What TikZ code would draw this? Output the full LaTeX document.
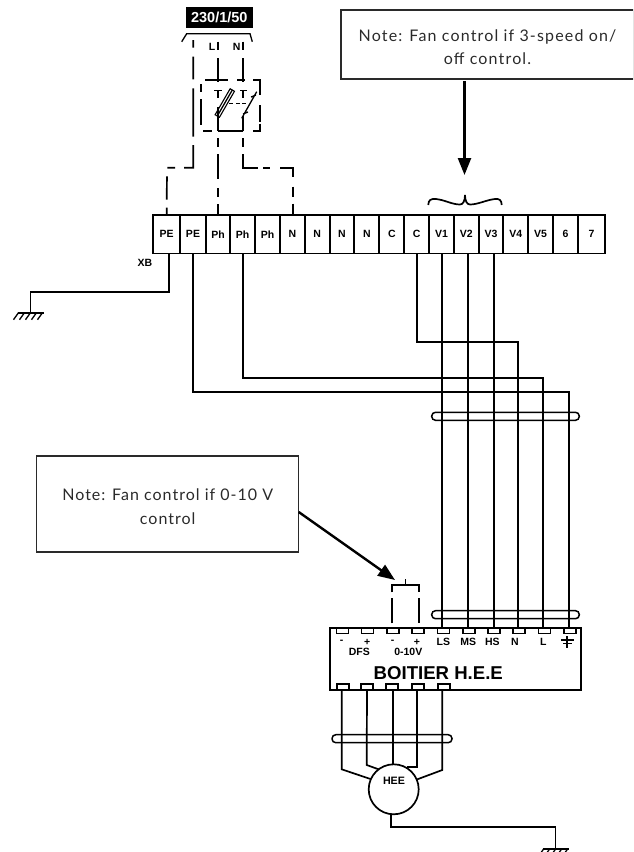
\documentclass[tikz,border=0pt]{standalone}
\usepackage{fontspec}
\setmainfont{Liberation Sans}
\newfontfamily\noteAfont[LetterSpace=7.3]{Lato}
\newfontfamily\noteBfont[LetterSpace=6.3]{Lato}
\usetikzlibrary{arrows.meta}
\definecolor{notegray}{HTML}{2A2A2A}
\tikzset{
  wire/.style={line width=1.7pt,black},
  dwire/.style={line width=1.7pt,black},
  term/.style={draw,line width=1.7pt,minimum height=38.5pt,inner sep=0pt,outer sep=0pt,font=\bfseries\fontsize{10.5}{12}\selectfont},
  pin/.style={draw,line width=1.6pt,minimum width=12pt,minimum height=5.5pt,inner sep=0pt,outer sep=0pt},
  lab/.style={inner sep=0pt,font=\bfseries\fontsize{10.5}{12}\selectfont},
  notebox/.style={draw=notegray,line width=1.2pt,inner sep=0pt,outer sep=0pt},
  notetxt/.style={text=notegray,inner sep=0pt,align=center},
  tie/.style={line width=1.5pt,rounded corners=3.8pt},
  bigarrow/.style={line width=2.4pt,-{Triangle[width=13pt,length=17pt]}}
}
\newcommand{\gndmark}[2]{%
  \draw[wire] (#1-13,#2) -- (#1+13,#2);
  \foreach \k in {-12,-6,0,6,12}{\draw[line width=1.3pt] (#1+\k,#2) -- ++(-5,7);}
}
\begin{document}
\begin{tikzpicture}[x=1pt,y=-1pt]
\useasboundingbox (0,0) rectangle (633,852);
\clip (0,0) rectangle (633,852);
% notes
\node[notebox,minimum width=293pt,minimum height=69pt] (noteA) at (487.5,44.5) {};
\node[notetxt,font=\noteAfont\fontsize{16}{23}\selectfont] (noteAtxt) at (487.5,47) {Note: Fan control if 3-speed on/\\off control.};
\node[notebox,minimum width=262pt,minimum height=96pt] (noteB) at (167.7,504) {};
\node[notetxt,font=\noteBfont\fontsize{16}{23.5}\selectfont] (noteBtxt) at (167.7,506.5) {Note: Fan control if 0-10 V\\control};
% supply label
\node[fill=black,text=white,inner sep=0pt,minimum width=66.7pt,minimum height=21pt,font=\bfseries\fontsize{14.5}{16}\selectfont] (supply) at (219.3,17.5) {230/1/50};
\draw[line width=1.3pt] (181.7,41.7) -- (186.7,33.7) -- (250,33.7) -- (252.3,41.7);
\node[lab] (lL) at (212,47.3) {L};
\node[lab] (lN) at (236.7,47.3) {N};
% terminal strip
\foreach \nm/\a/\b/\t in {t1/153/180.3/PE,t2/180.3/205.7/PE,t3/205.7/230.3/Ph,t4/230.3/255/Ph,t5/255/280/Ph,t6/280/304.7/N,t7/304.7/329.7/N,t8/329.7/354.3/N,t9/354.3/379.3/N,t10/379.3/404.3/C,t11/404.3/429/C,t12/429/454/V1,t13/454/478.7/V2,t14/478.7/503.3/V3,t15/503.3/528.3/V4,t16/528.3/553/V5,t17/553/578/6,t18/578/605/7}{
  \pgfmathsetmacro{\w}{\b-\a}
  \pgfmathsetmacro{\c}{(\a+\b)/2}
  \node[term,minimum width=\w pt] (\nm) at (\c,234.2) {\t};
}
\node[lab] (xb) at (145,263) {XB};
% isolator box
\draw[dwire] (205,80) -- (228.3,80) (237.3,80) -- (245,80) (253.3,80) -- (260,80) -- (260,95)
  (260,105) -- (260,121.7) (260,123.5) -- (260,130.7) -- (252.7,130.7) (243.3,130.7) -- (218,130.7)
  (211.7,130.7) -- (203.3,130.7) (201,84) -- (201,91.7) (201,99) -- (201,125);
\draw[wire,line width=1.3pt] (214,90.7) -- (221.7,90.7) (240,90.7) -- (246.7,90.7);
\draw[wire,line width=1.3pt] (217.3,116) -- (232.3,90);
\draw[line width=1.1pt,rotate around={60:(224.8,103)}] (209.8,100.5) rectangle (239.8,105.5);
\draw[wire,line width=1.3pt] (241.7,118.3) -- (256.7,91.7) (251,97) -- (256,95) (243,114) -- (248,112);
\draw[line width=1.2pt,dash pattern=on 4pt off 2.5pt] (229.3,103.7) -- (246.7,103.7);
% mains wiring (dashed, with the reference's irregular gaps)
\coordinate (peTop) at (193.3,40);
\coordinate (lTop) at (218,41.7);
\coordinate (nTop) at (243.3,41.7);
\draw[dwire,dash pattern=on 7.7pt off 9pt on 22.6pt off 9pt on 48.4pt off 8.3pt on 32pt off 9pt on 7.7pt off 9pt on 23.3pt off 8pt on 7pt]
  (peTop) -- (193.3,167.7) -- (167,167.7) -- (t1.north);
\draw[dwire,dash pattern=on 8.3pt off 8pt on 23.7pt off 9pt on 7.3pt off 9pt on 23.7pt off 7.3pt on 8.7pt off 7.3pt on 25pt off 9pt on 8.7pt off 7.3pt on 11pt]
  (lTop) -- (t3.north);
\draw[dwire,dash pattern=on 8.3pt off 8pt on 23.7pt off 9pt on 7.3pt off 18pt on 14.7pt off 7.3pt on 8.7pt off 7.3pt on 28.7pt off 5pt on 6.7pt off 10pt on 22.3pt off 10pt on 10pt off 7pt on 11.3pt]
  (nTop) -- (243.3,167.7) -- (293.3,167.7) -- (293.3,215);
% earth 1
\coordinate (gndA) at (30.5,312.7);
\draw[wire] ([xshift=2.3pt]t1.south) -- ++(0,38.2) -| (gndA);
\gndmark{30.5}{312.7}
% fan box
\node[draw,line width=1.7pt,minimum width=251pt,minimum height=62pt,inner sep=0pt,outer sep=0pt] (boitier) at (455.5,659) {};
\node[inner sep=0pt,font=\bfseries\fontsize{18.6}{20}\selectfont] (boitiertxt) at (438.3,672.7) {BOITIER H.E.E};
\foreach \nm/\c in {a1/342.5,a2/367.3,a3/392.8,a4/418,a5/443.6,a6/468.8,a7/494.2,a8/519,a9/544.3,a10/570}{
  \node[pin] (\nm) at (\c,630.8) {};
}
\foreach \nm/\c in {b1/342.8,b2/367,b3/391.7,b4/417.7,b5/443.7}{
  \node[pin] (\nm) at (\c,687) {};
}
\foreach \nm/\x/\t in {m1/341.7/-,m2/367.3/+,m3/392.7/-,m4/417/+,m5/443.3/LS,m6/468.3/MS,m7/492.3/HS,m8/515/N,m9/543.3/L}{
  \node[lab] (\nm) at (\x,642) {\t};
}
\node[lab] (dfs) at (359.3,651.7) {DFS};
\node[lab] (v010) at (408.3,651.7) {0-10V};
\draw[wire,line width=1.3pt] (567,636) -- (567,648) (561.2,640) -- (574,640) (563,643.3) -- (572,643.3);
% control wires
\draw[wire] ([xshift=.5pt]t12.south) -- ([xshift=.5pt]t12.south |- a5.north);
\draw[wire] ([xshift=1.4pt]t13.south) -- ([xshift=1.4pt]t13.south |- a6.north);
\draw[wire] ([xshift=3pt]t14.south) -- ([xshift=3pt]t14.south |- a7.north);
\draw[wire] (t11.south) -- ++(0,88.5) -| ([xshift=-1pt]a8.north);
\draw[wire] (t4.south) -- ++(0,124.2) -| ([xshift=-1.3pt]a9.north);
\draw[wire] (t2.south) -- ++(0,138.2) -| ([xshift=-1.3pt]a10.north);
% cable ties
\draw[tie] (431.7,412.3) rectangle (579.3,420.3);
\draw[tie] (431.7,610.7) rectangle (579.3,618.7);
\draw[tie] (332,734.7) rectangle (452,742.7);
% 0-10 V bracket
\draw[dwire,dash pattern=on 25pt off 6pt on 42.2pt off 6pt on 25pt]
  (392,623.3) -- (392,584.7) -- (419,584.7) -- (419,623.3);
\draw[wire] (405.5,584.7) -- (405.5,579);
% note arrows and brace
\coordinate (tipA) at (464.5,175);
\coordinate (tipB) at (395,580);
\draw[bigarrow] (tipA |- noteA.south) ++(0,2) -- (tipA);
\draw[bigarrow] ([yshift=-8pt]noteB.east) -- (tipB);
\draw[line width=1.7pt] (428.3,205) .. controls (428.3,200) and (431,198.5) .. (436,199)
  .. controls (445,200) and (452,204.5) .. (460,204.5) .. controls (463,204.5) and (465,201) .. (465,195)
  .. controls (465,201) and (467,204.5) .. (470,204.5) .. controls (478,204.5) and (486,200) .. (495,199)
  .. controls (499,198.5) and (501.7,200) .. (501.7,205);
% motor
\node[draw,circle,line width=1.7pt,minimum size=50pt,inner sep=0pt,outer sep=0pt] (hee) at (393.7,789.3) {};
\node[lab,font=\bfseries\fontsize{10.7}{12}\selectfont] (heetxt) at (394,781) {HEE};
\draw[wire] ([xshift=-1.1pt]b1.south) -- (341.7,769.3) -- (hee.156);
\draw[wire] (b2.south) -- (366.7,765) -- (hee.127);
\draw[wire] ([xshift=1pt]b3.south) -- (392.7,764.3);
\draw[wire] ([xshift=-.7pt]b4.south) -- (417,766.7) -- (407,766.7);
\draw[wire] ([xshift=-1.4pt]b5.south) -- (442.3,770) -- (hee.23);
% earth 2
\coordinate (gndB) at (555.5,849.2);
\draw[wire] ([xshift=-2.7pt]hee.south) -- ++(0,12.7) -| (gndB);
\gndmark{555.5}{849.2}
\end{tikzpicture}
\end{document}
